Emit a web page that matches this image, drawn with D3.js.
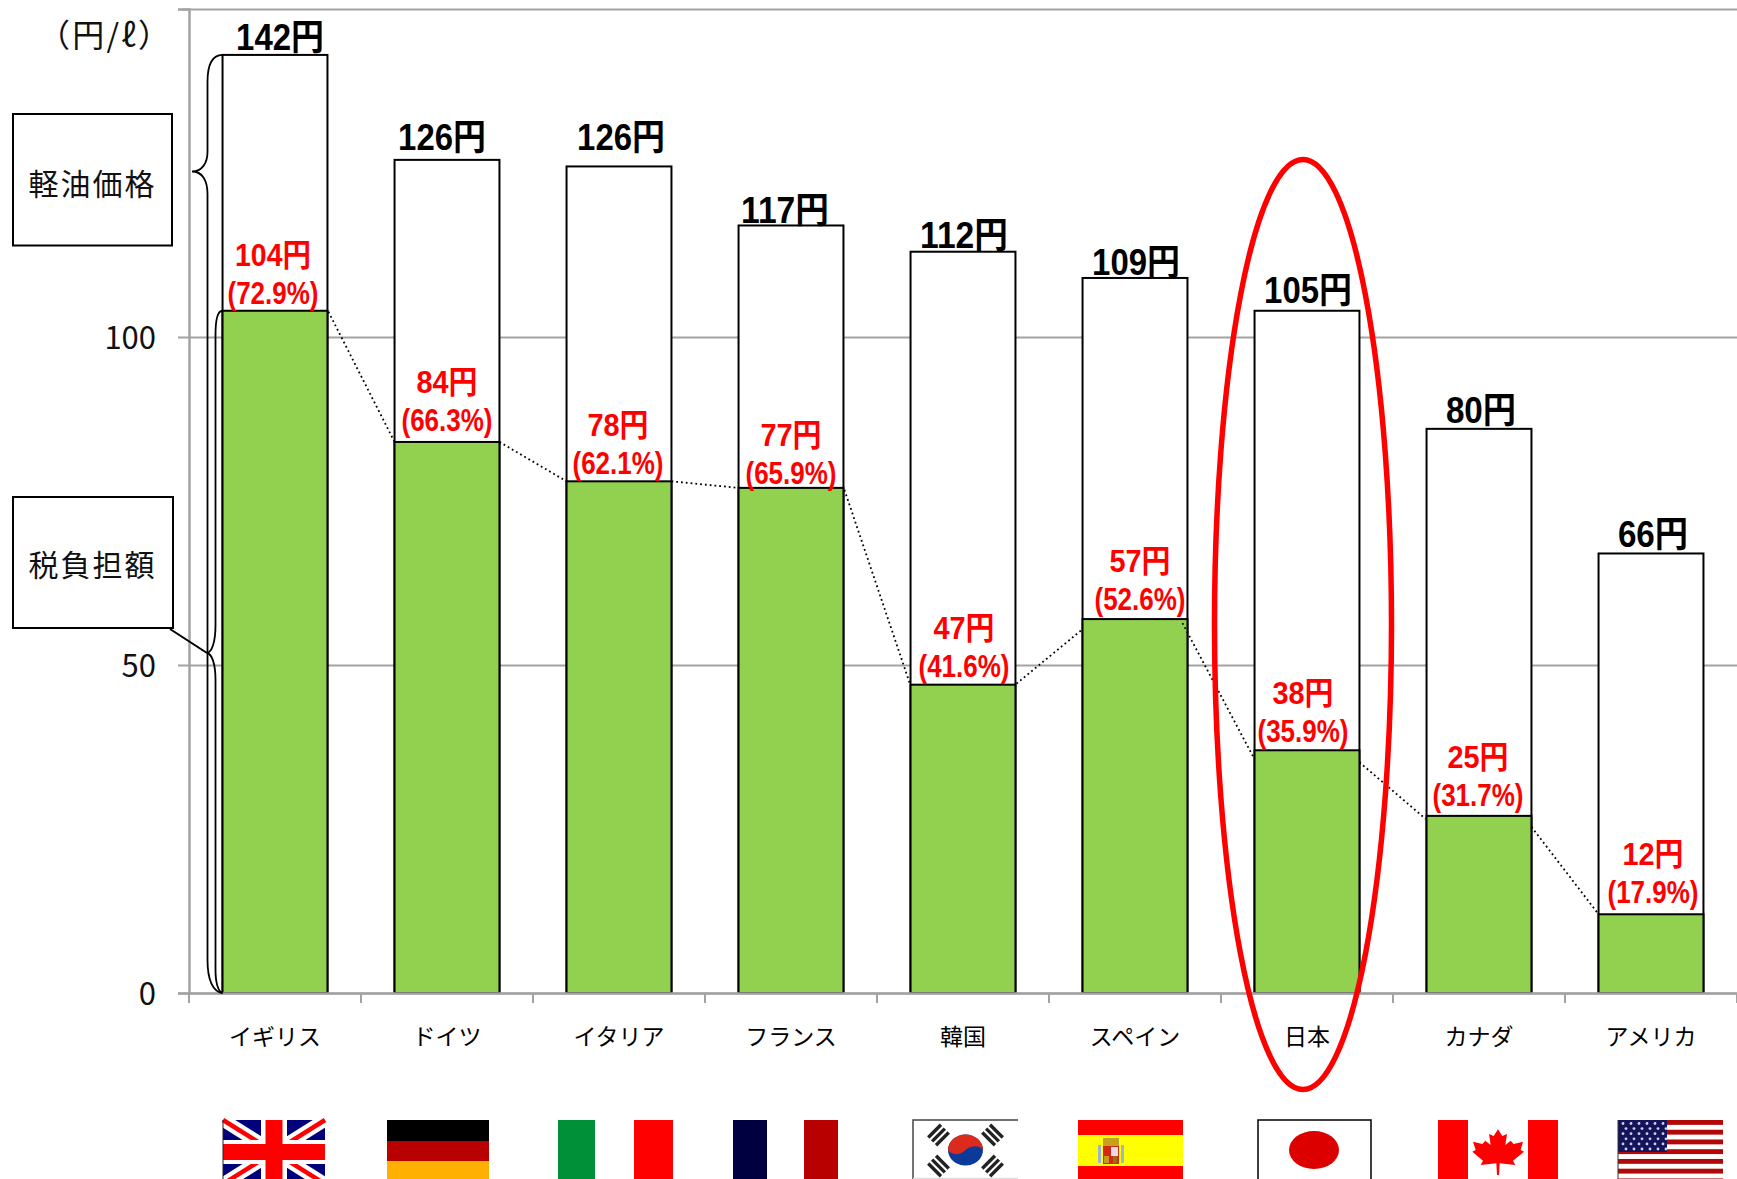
<!DOCTYPE html>
<html lang="ja">
<head>
<meta charset="utf-8">
<style>
  html, body { margin: 0; padding: 0; background: #fff; overflow: hidden; }
  svg { display: block; }
  text { font-family: "Noto Sans CJK JP", "Noto Sans", sans-serif; }
  .value { font-family: "Liberation Sans", "Noto Sans CJK JP", sans-serif; font-weight: 700; }
</style>
<script src="https://d3js.org/d3.v7.min.js"></script>
</head>
<body>
<svg id="drawing_region"></svg>
<script>
// 国名
const countries = ["イギリス", "ドイツ", "イタリア", "フランス", "韓国", "スペイン", "日本", "カナダ", "アメリカ"];
// heights as drawn in the picture (the printed labels differ a little from them)
const priceBars = [143, 127, 126, 117, 113, 109, 104, 86, 67];
const taxBars = [104, 84, 78, 77, 47, 57, 37, 27, 12];
// printed labels
const priceLabels = [142, 126, 126, 117, 112, 109, 105, 80, 66];
const taxLabels = [104, 84, 78, 77, 47, 57, 38, 25, 12];
const taxShares = [72.9, 66.3, 62.1, 65.9, 41.6, 52.6, 35.9, 31.7, 17.9];
const yTicks = [0, 50, 100, 150];

// layout nudges, the labels were placed by hand in the original
const priceNudgeX = [5, -5, 2, -6, 1, 1, 1, 2, 2];
const priceNudgeY = [5, 10, 16, 2, 4, 3, 8, 6, 6];
const taxNudgeX = [-2, 0, -1, 0, 1, 5, -4, -1, 2];
const taxNudgeY = [7, 11, 7, 4, 8, 9, 8, 10, 11];
// connector ends [dx0, dy0, dx1, dy1]
const linkNudge = [[1, 1, 0, 0], [0, 0, 0, 0], [0, 0, 0, 0], [1, 2, -1, -2], [1, -1, -1, 11], [-5, 4, 0, 9], [0, 12, -1, 3], [0, 11, 0, 0]];

const width = 1737, height = 1179;
const margin = { left: 189, top: 9, bottom: 186 };

const svg = d3.select("#drawing_region").attr("width", width).attr("height", height);

const xscale = d3.scaleBand()
  .domain(countries)
  .range([margin.left, width])
  .paddingInner(0.39)
  .paddingOuter(0.195);

const yscale = d3.scaleLinear()
  .domain([0, 150])
  .range([height - margin.bottom, margin.top]);

const GREY = "#a3a3a3";

// 目盛線
const grid = svg.append("g")
  .attr("transform", `translate(${margin.left},0)`)
  .call(d3.axisLeft(yscale).tickValues(yTicks).tickSize(-(width - margin.left)).tickFormat(""));
grid.select(".domain").remove();
grid.selectAll("line").attr("stroke", GREY).attr("stroke-width", 2);

// bars
const bw = xscale.bandwidth();
svg.append("g").selectAll("rect")
  .data(countries)
  .join("rect")
  .attr("x", d => xscale(d))
  .attr("y", (d, i) => yscale(priceBars[i]))
  .attr("width", bw)
  .attr("height", (d, i) => yscale(0) - yscale(priceBars[i]))
  .attr("fill", "#fff")
  .attr("stroke", "#000")
  .attr("stroke-width", 2);

svg.append("g").selectAll("rect")
  .data(countries)
  .join("rect")
  .attr("x", d => xscale(d))
  .attr("y", (d, i) => yscale(taxBars[i]))
  .attr("width", bw)
  .attr("height", (d, i) => yscale(0) - yscale(taxBars[i]))
  .attr("fill", "#92d050")
  .attr("stroke", "#000")
  .attr("stroke-width", 2);

// 点線
svg.append("g").selectAll("line")
  .data(countries.slice(0, -1))
  .join("line")
  .attr("x1", (d, i) => xscale(d) + bw + linkNudge[i][0])
  .attr("y1", (d, i) => yscale(taxBars[i]) + linkNudge[i][1])
  .attr("x2", (d, i) => xscale(countries[i + 1]) + linkNudge[i][2])
  .attr("y2", (d, i) => yscale(taxBars[i + 1]) + linkNudge[i][3])
  .attr("stroke", "#000")
  .attr("stroke-width", 1.8)
  .attr("stroke-dasharray", "1.8 3");

// axes on top of the bars
const yaxis = svg.append("g")
  .attr("transform", `translate(${margin.left},0)`)
  .call(d3.axisLeft(yscale).tickValues(yTicks).tickSize(11).tickPadding(22)
    .tickFormat(d => d === 150 ? "" : d));
yaxis.selectAll("line").attr("stroke", GREY).attr("stroke-width", 2)
  .attr("x2", d => d === 150 ? -7 : -11);
yaxis.select(".domain").attr("stroke", GREY).attr("stroke-width", 2.5);
yaxis.selectAll("text").attr("font-size", 31).attr("fill", "#111")
  .style("font-family", '"Noto Sans CJK JP"').attr("dy", "0.36em");

const xaxis = svg.append("g")
  .attr("transform", `translate(0,${yscale(0)})`)
  .call(d3.axisBottom(xscale).tickSize(0).tickPadding(0));
xaxis.select(".domain").attr("stroke", GREY).attr("stroke-width", 2.5);
xaxis.selectAll("text").attr("font-size", 23).attr("fill", "#000")
  .attr("y", 52).attr("dy", 0);
svg.append("g").selectAll("line")
  .data(d3.range(0, countries.length + 1))
  .join("line")
  .attr("x1", i => margin.left + i * xscale.step())
  .attr("x2", i => margin.left + i * xscale.step())
  .attr("y1", yscale(0))
  .attr("y2", yscale(0) + 10)
  .attr("stroke", GREY)
  .attr("stroke-width", 2);

// 価格ラベル
svg.append("g").selectAll("text")
  .data(priceLabels)
  .join("text")
  .attr("class", "value")
  .attr("x", (d, i) => xscale(countries[i]) + bw / 2 + priceNudgeX[i])
  .attr("y", (d, i) => yscale(priceBars[i]) - priceNudgeY[i])
  .attr("text-anchor", "middle")
  .attr("font-size", 36)
  .attr("fill", "#000")
  .attr("textLength", d => String(d).length * 17.6 + 35)
  .attr("lengthAdjust", "spacingAndGlyphs")
  .text(d => d + "円");

// 税額ラベル
const taxLabel = svg.append("g").selectAll("g")
  .data(taxLabels)
  .join("g")
  .attr("transform", (d, i) => `translate(${xscale(countries[i]) + bw / 2 + taxNudgeX[i]},${yscale(taxBars[i]) - taxNudgeY[i]})`)
  .attr("fill", "#f00")
  .attr("text-anchor", "middle");
taxLabel.append("text")
  .attr("class", "value")
  .attr("y", -38)
  .attr("font-size", 32)
  .attr("textLength", d => String(d).length * 15 + 31)
  .attr("lengthAdjust", "spacingAndGlyphs")
  .text(d => d + "円");
taxLabel.append("text")
  .attr("class", "value")
  .attr("font-size", 32)
  .attr("textLength", 91)
  .attr("lengthAdjust", "spacingAndGlyphs")
  .text((d, i) => `(${taxShares[i].toFixed(1)}%)`);

// 単位
svg.append("text")
  .attr("x", 104).attr("y", 47)
  .attr("text-anchor", "middle")
  .attr("font-size", 32)
  .attr("fill", "#111")
  .attr("textLength", 132)
  .attr("lengthAdjust", "spacing")
  .text("（円/ℓ）");

// 凡例の箱と括弧
const notes = svg.append("g").attr("fill", "none").attr("stroke", "#000");
notes.append("rect").attr("x", 13).attr("y", 114).attr("width", 159).attr("height", 131.5).attr("fill", "#fff").attr("stroke-width", 2);
notes.append("rect").attr("x", 13).attr("y", 497).attr("width", 160).attr("height", 131).attr("fill", "#fff").attr("stroke-width", 2);
notes.append("line").attr("x1", 170).attr("y1", 629).attr("x2", 207).attr("y2", 653).attr("stroke-width", 2);
const bx = xscale(countries[0]);
notes.append("path").attr("stroke-width", 1.8)
  .attr("d", `M${bx},${yscale(priceBars[0])} C213,${yscale(priceBars[0])} 207.5,64 207.5,82 V152 C207.5,163 202,171.5 192,171.5 C202,171.5 207.5,180 207.5,194 V960 C207.5,980 213,992 ${bx},${yscale(0)}`);
notes.append("path").attr("stroke-width", 1.8)
  .attr("d", `M${bx},${yscale(taxBars[0])} C218,${yscale(taxBars[0])} 215.5,320 215.5,335 V625 C215.5,642 212,652 207,653 C212,654 215.5,664 215.5,680 V970 C215.5,982 218,992 ${bx},${yscale(0)}`);

svg.append("g").selectAll("text")
  .data(["軽油価格", "税負担額"])
  .join("text")
  .attr("x", 92.5)
  .attr("y", (d, i) => i === 0 ? 195 : 576)
  .attr("text-anchor", "middle")
  .attr("font-size", 30)
  .attr("letter-spacing", 2)
  .attr("fill", "#111")
  .text(d => d);

// 日本を囲む楕円
svg.append("ellipse")
  .attr("cx", 1303).attr("cy", 624.5)
  .attr("rx", 88.5).attr("ry", 465)
  .attr("fill", "none")
  .attr("stroke", "#f00")
  .attr("stroke-width", 5.5);

// 国旗 (left, right of each flag, top is the same for all)
const flagTop = 1120;
const flagEdges = [[223, 325], [387, 489], [558, 673], [733, 838], [913, 1018], [1078, 1183], [1258, 1371], [1438, 1558], [1618, 1723]];
const flags = svg.append("g");

function box(x, y, w, h, fill) {
  return flags.append("rect").attr("x", x).attr("y", y).attr("width", w).attr("height", h).attr("fill", fill);
}

function drawUK(x0, x1) {
  const w = x1 - x0, h = 64, y0 = flagTop, cx = x0 + w / 2, cy = y0 + 32;
  const g = flags.append("g");
  g.append("rect").attr("x", x0).attr("y", y0).attr("width", w).attr("height", h).attr("fill", "#00007a");
  const diag = [[x0, y0, x1, y0 + h], [x0, y0 + h, x1, y0]];
  diag.forEach(p => g.append("line").attr("x1", p[0]).attr("y1", p[1]).attr("x2", p[2]).attr("y2", p[3]).attr("stroke", "#fff").attr("stroke-width", 13));
  diag.forEach(p => g.append("line").attr("x1", p[0]).attr("y1", p[1]).attr("x2", p[2]).attr("y2", p[3]).attr("stroke", "#f00").attr("stroke-width", 4.5));
  g.append("rect").attr("x", cx - 13).attr("y", y0).attr("width", 26).attr("height", h).attr("fill", "#fff");
  g.append("rect").attr("x", x0).attr("y", cy - 12).attr("width", w).attr("height", 24).attr("fill", "#fff");
  g.append("rect").attr("x", cx - 8.5).attr("y", y0).attr("width", 17).attr("height", h).attr("fill", "#f00");
  g.append("rect").attr("x", x0).attr("y", cy - 8).attr("width", w).attr("height", 16).attr("fill", "#f00");
  g.append("line").attr("x1", x0).attr("y1", y0).attr("x2", x0).attr("y2", y0 + h).attr("stroke", "#222");
}

function drawGermany(x0, x1) {
  box(x0, flagTop, x1 - x0, 21, "#000");
  box(x0, flagTop + 21, x1 - x0, 20, "#b90000");
  box(x0, flagTop + 41, x1 - x0, 22, "#ffb000");
}

function drawItaly(x0, x1) {
  box(x0, flagTop, 37, 64, "#009037");
  box(x1 - 39, flagTop, 39, 64, "#f00");
}

function drawFrance(x0, x1) {
  box(x0, flagTop, 34, 64, "#000040");
  box(x1 - 34, flagTop, 34, 64, "#b90000");
}

function drawKorea(x0, x1) {
  const cx = x0 + 52.5, cy = flagTop + 30;
  flags.append("path").attr("d", `M${x1},${flagTop} H${x0} V${flagTop + 60}`).attr("fill", "none").attr("stroke", "#444").attr("stroke-width", 1.5);
  flags.append("line").attr("x1", x0).attr("x2", x1).attr("y1", flagTop + 58.5).attr("y2", flagTop + 58.5).attr("stroke", "#ddd").attr("stroke-width", 1.5);
  flags.append("ellipse").attr("cx", cx).attr("cy", cy).attr("rx", 17.5).attr("ry", 15.5).attr("fill", "#0b3a9a");
  flags.append("path")
    .attr("d", `M${cx - 17.5},${cy} A17.5,15.5 0 0 1 ${cx + 17.5},${cy} C${cx + 14},${cy - 5} ${cx + 6},${cy - 5} ${cx},${cy} C${cx - 6},${cy + 6} ${cx - 14},${cy + 5} ${cx - 17.5},${cy} Z`)
    .attr("fill", "#dc2a1c");
  [[-27, -15, -45], [27, -15, 45], [-27, 16, 45], [27, 16, -45]].forEach(t => {
    const g = flags.append("g").attr("transform", `translate(${cx + t[0]},${cy + t[1]}) rotate(${t[2]})`);
    [-5.5, 0, 5.5].forEach(dy => g.append("rect").attr("x", -9).attr("y", dy - 1.7).attr("width", 18).attr("height", 3.4).attr("fill", "#222"));
  });
}

function drawSpain(x0, x1) {
  box(x0, flagTop, x1 - x0, 64, "#f00");
  box(x0, flagTop + 15, x1 - x0, 31, "#ff0");
  const cx = x0 + 33;
  box(cx - 13, flagTop + 25, 3, 18, "#9fb4d0");
  box(cx + 10, flagTop + 25, 3, 18, "#9fb4d0");
  box(cx - 8, flagTop + 18, 16, 8, "#c8a020");
  box(cx - 8, flagTop + 26, 16, 18, "#d22a12");
  box(cx, flagTop + 27, 7, 9, "#e8d8e8");
  box(cx - 7, flagTop + 36, 5, 7, "#c89a20");
  box(cx + 2, flagTop + 36, 4, 7, "#a06a20");
}

function drawJapan(x0, x1) {
  flags.append("path").attr("d", `M${x0},${height} V${flagTop} H${x1} V${height}`).attr("fill", "none").attr("stroke", "#000").attr("stroke-width", 1.5);
  flags.append("ellipse").attr("cx", x0 + 56).attr("cy", flagTop + 30).attr("rx", 25).attr("ry", 19).attr("fill", "#dc0000");
}

const leafShape = [[0, 88], [-13, 108], [-27, 102], [-22, 135], [-38, 122], [-47, 132], [-75, 125], [-67, 150], [-77, 155], [-45, 182], [-52, 195], [-5, 190], [-3, 225], [3, 225], [5, 190], [52, 195], [45, 182], [78, 155], [68, 150], [75, 125], [47, 132], [38, 122], [22, 135], [27, 102], [13, 108]];

function drawCanada(x0, x1) {
  box(x0, flagTop, 30, 64, "#f00");
  box(x1 - 30, flagTop, 30, 64, "#f00");
  flags.append("polygon")
    .attr("transform", `translate(${x0 + 60},1100) scale(0.3333)`)
    .attr("points", leafShape.map(p => p.join(",")).join(" "))
    .attr("fill", "#f00");
}

function drawUSA(x0, x1) {
  const w = x1 - x0, stripe = 4.87;
  d3.range(0, 13, 2).forEach(i => box(x0, flagTop + i * stripe, w, stripe, "#b30808"));
  box(x0, flagTop, 49, 32, "#14145c");
  d3.range(0, 6).forEach(r => d3.range(0, 6).forEach(c => {
    flags.append("circle")
      .attr("cx", x0 + 5 + c * 8 + (r % 2 ? 3 : 0))
      .attr("cy", flagTop + 3.5 + r * 5.1)
      .attr("r", 1.4)
      .attr("fill", "#cfd0e6");
  }));
  flags.append("line").attr("x1", x0).attr("x2", x0).attr("y1", flagTop).attr("y2", height).attr("stroke", "#333");
}

[drawUK, drawGermany, drawItaly, drawFrance, drawKorea, drawSpain, drawJapan, drawCanada, drawUSA]
  .forEach((draw, i) => draw(flagEdges[i][0], flagEdges[i][1]));
</script>
</body>
</html>
